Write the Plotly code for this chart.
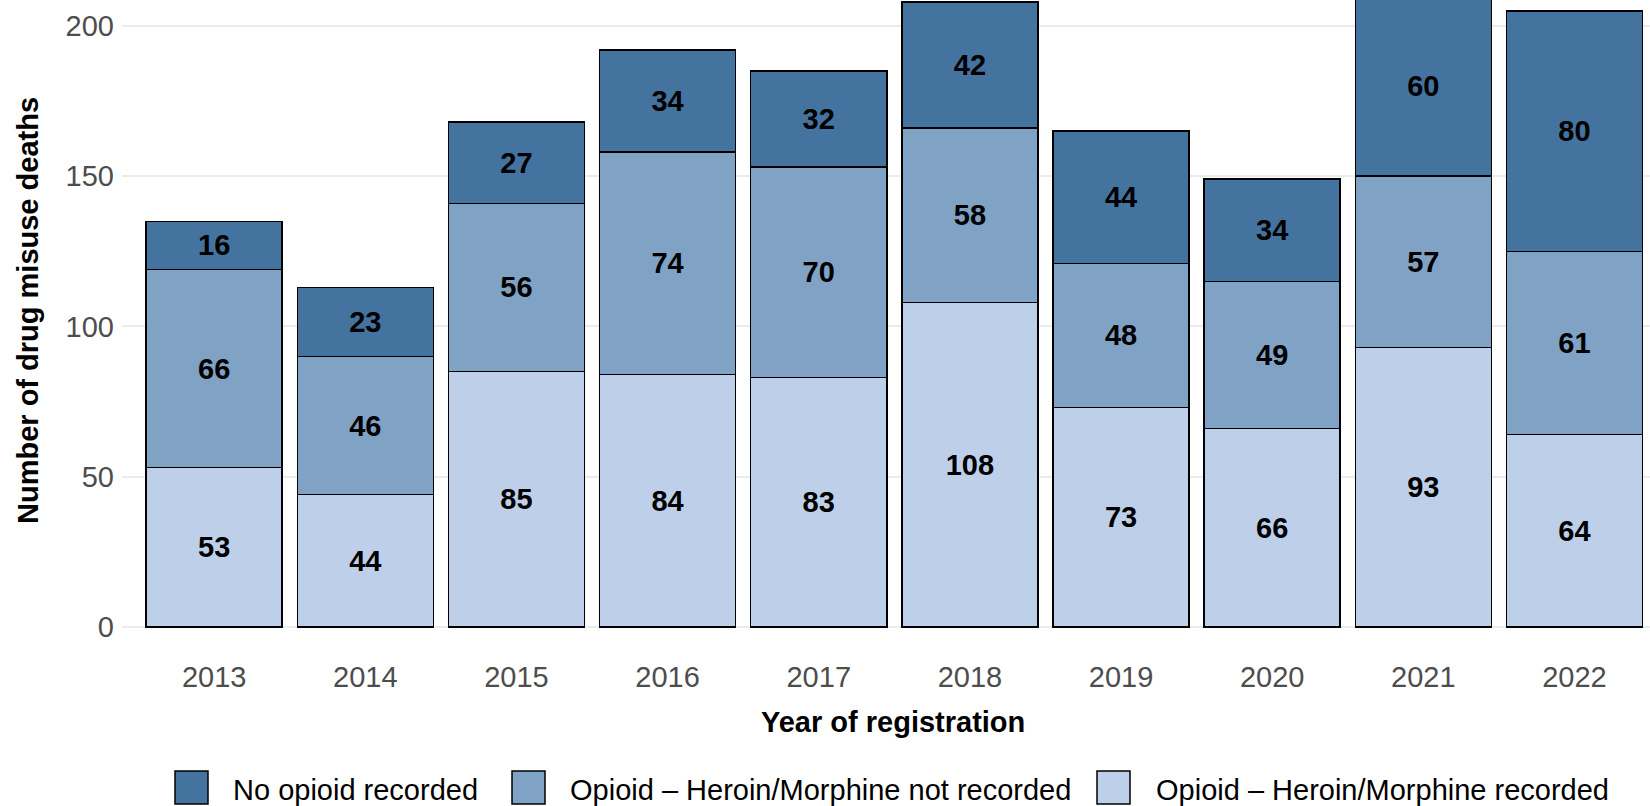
import plotly.graph_objects as go

# drug misuse deaths by year of registration
years = ["2013", "2014", "2015", "2016", "2017", "2018", "2019", "2020", "2021", "2022"]
opioid_recorded = [53, 44, 85, 84, 83, 108, 73, 66, 93, 64]
opioid_not_recorded = [66, 46, 56, 74, 70, 58, 48, 49, 57, 61]
no_opioid = [16, 23, 27, 34, 32, 42, 44, 34, 60, 80]

series_names = [
    "No opioid recorded",
    "Opioid \u2013 Heroin/Morphine not recorded",
    "Opioid \u2013 Heroin/Morphine recorded",
]
colours = ["#43739E", "#7FA2C5", "#BED0E9"]

FONT = "Liberation Sans, Arial, sans-serif"
W, H = 1650, 806
LEFT, BOTTOM = 122, 149          # plot area margins in px
PW, PH = W - LEFT, H - BOTTOM


def px_x(px):
    return (px - LEFT) / PW


def px_y(py):
    return (PH - py) / PH


fig = go.Figure()
# stacked from the bottom up: recorded, not recorded, no opioid
for values, name, colour in [
    (opioid_recorded, series_names[2], colours[2]),
    (opioid_not_recorded, series_names[1], colours[1]),
    (no_opioid, series_names[0], colours[0]),
]:
    fig.add_trace(go.Bar(
        x=years, y=values, name=name, width=0.9,
        marker=dict(color=colour, line=dict(color="black", width=1.5)),
        text=values, textposition="inside", insidetextanchor="middle",
        textangle=0, constraintext="none",
        textfont=dict(family=FONT, size=29, color="black", weight="bold"),
        showlegend=False,
    ))

# legend drawn by hand so the keys match the reference size
shapes = []
annotations = []
for key_x, text_x, name, colour in zip([175, 512, 1097], [231, 568, 1154], series_names, colours):
    shapes.append(dict(
        type="rect", xref="paper", yref="paper",
        x0=px_x(key_x), x1=px_x(key_x + 33), y0=px_y(804), y1=px_y(771),
        fillcolor=colour, line=dict(color="black", width=1.5),
    ))
    annotations.append(dict(
        x=px_x(text_x), y=px_y(790), xref="paper", yref="paper",
        text=name, showarrow=False, xanchor="left", yanchor="middle",
        font=dict(family=FONT, size=29, color="black"),
    ))

annotations.append(dict(
    x=px_x(893), y=px_y(722), xref="paper", yref="paper",
    text="Year of registration", showarrow=False, xanchor="center", yanchor="middle",
    font=dict(family=FONT, size=29, color="black", weight="bold"),
))
annotations.append(dict(
    x=px_x(28), y=px_y(311), xref="paper", yref="paper", textangle=-90,
    text="Number of drug misuse deaths", showarrow=False, xanchor="center", yanchor="middle",
    font=dict(family=FONT, size=29, color="black", weight="bold"),
))

fig.update_layout(
    barmode="stack",
    width=W, height=H,
    margin=dict(l=LEFT, r=0, t=0, b=BOTTOM),
    paper_bgcolor="white", plot_bgcolor="white",
    shapes=shapes, annotations=annotations,
    xaxis=dict(
        type="category", range=[-0.61, 9.5], showgrid=False, ticks="",
        ticklabelstandoff=0,
        tickfont=dict(family=FONT, size=29, color="#4D4D4D"),
    ),
    yaxis=dict(
        range=[-10, 208.65], tickvals=[0, 50, 100, 150, 200],
        showgrid=True, gridcolor="#EBEBEB", gridwidth=2, zeroline=False, ticks="",
        ticklabelstandoff=7,
        tickfont=dict(family=FONT, size=29, color="#4D4D4D"),
    ),
)

fig.write_html("out.html", config={"displayModeBar": False},
               post_script="document.body.style.margin='0';")
